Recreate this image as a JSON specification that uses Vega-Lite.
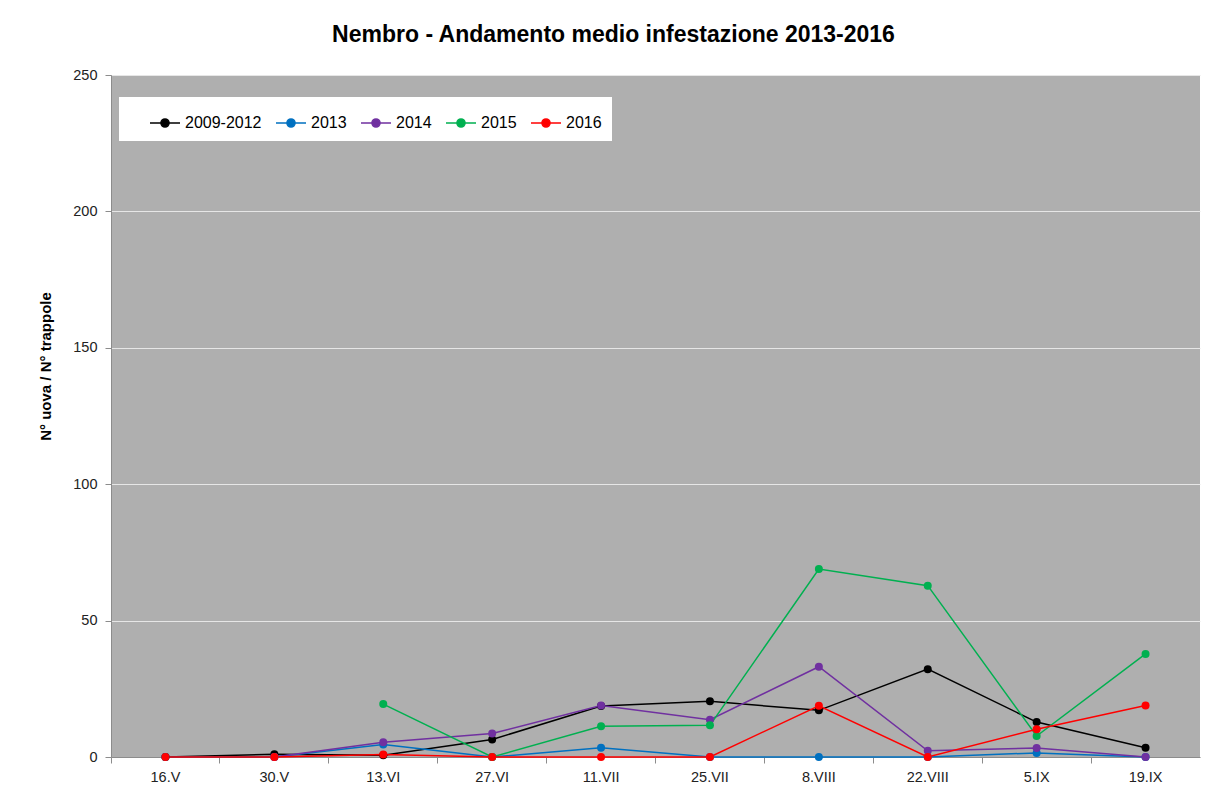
{
  "$schema": "https://vega.github.io/schema/vega-lite/v6.json",
  "width": 1089,
  "height": 682,
  "autosize": {"type": "none"},
  "padding": {"left": 111, "top": 75, "right": 13, "bottom": 39},
  "background": "white",
  "title": {
    "text": "Nembro - Andamento medio infestazione 2013-2016",
    "font": "Liberation Sans",
    "fontSize": 23,
    "fontWeight": "bold",
    "color": "black",
    "anchor": "middle",
    "dx": -42,
    "offset": 20
  },
  "config": {
    "view": {"fill": "#afafaf", "stroke": null},
    "font": "Liberation Sans"
  },
  "data": {
    "values": [
      {"d": "16.V", "s": "2009-2012", "v": 0},
      {"d": "30.V", "s": "2009-2012", "v": 1.0},
      {"d": "13.VI", "s": "2009-2012", "v": 0.6},
      {"d": "27.VI", "s": "2009-2012", "v": 6.4},
      {"d": "11.VII", "s": "2009-2012", "v": 18.7},
      {"d": "25.VII", "s": "2009-2012", "v": 20.4},
      {"d": "8.VIII", "s": "2009-2012", "v": 17.1},
      {"d": "22.VIII", "s": "2009-2012", "v": 32.2},
      {"d": "5.IX", "s": "2009-2012", "v": 12.8},
      {"d": "19.IX", "s": "2009-2012", "v": 3.4},
      {"d": "16.V", "s": "2013", "v": 0},
      {"d": "30.V", "s": "2013", "v": 0},
      {"d": "13.VI", "s": "2013", "v": 4.6},
      {"d": "27.VI", "s": "2013", "v": 0},
      {"d": "11.VII", "s": "2013", "v": 3.4},
      {"d": "25.VII", "s": "2013", "v": 0},
      {"d": "8.VIII", "s": "2013", "v": 0},
      {"d": "22.VIII", "s": "2013", "v": 0},
      {"d": "5.IX", "s": "2013", "v": 1.5},
      {"d": "19.IX", "s": "2013", "v": 0},
      {"d": "30.V", "s": "2014", "v": 0},
      {"d": "13.VI", "s": "2014", "v": 5.4},
      {"d": "27.VI", "s": "2014", "v": 8.6},
      {"d": "11.VII", "s": "2014", "v": 18.9},
      {"d": "25.VII", "s": "2014", "v": 13.7},
      {"d": "8.VIII", "s": "2014", "v": 33.1},
      {"d": "22.VIII", "s": "2014", "v": 2.3},
      {"d": "5.IX", "s": "2014", "v": 3.3},
      {"d": "19.IX", "s": "2014", "v": 0},
      {"d": "13.VI", "s": "2015", "v": 19.4},
      {"d": "27.VI", "s": "2015", "v": 0},
      {"d": "11.VII", "s": "2015", "v": 11.3},
      {"d": "25.VII", "s": "2015", "v": 11.6},
      {"d": "8.VIII", "s": "2015", "v": 68.9},
      {"d": "22.VIII", "s": "2015", "v": 62.8},
      {"d": "5.IX", "s": "2015", "v": 7.7},
      {"d": "19.IX", "s": "2015", "v": 37.8},
      {"d": "16.V", "s": "2016", "v": 0},
      {"d": "30.V", "s": "2016", "v": 0},
      {"d": "13.VI", "s": "2016", "v": 0.9},
      {"d": "27.VI", "s": "2016", "v": 0},
      {"d": "11.VII", "s": "2016", "v": 0},
      {"d": "25.VII", "s": "2016", "v": 0},
      {"d": "8.VIII", "s": "2016", "v": 18.8},
      {"d": "22.VIII", "s": "2016", "v": 0},
      {"d": "5.IX", "s": "2016", "v": 10.2},
      {"d": "19.IX", "s": "2016", "v": 18.9}
    ]
  },
  "mark": {"type": "line", "strokeWidth": 1.5, "point": {"filled": true, "size": 64, "opacity": 1}},
  "encoding": {
    "x": {
      "field": "d",
      "type": "ordinal",
      "sort": ["16.V", "30.V", "13.VI", "27.VI", "11.VII", "25.VII", "8.VIII", "22.VIII", "5.IX", "19.IX"],
      "scale": {"type": "band", "paddingInner": 0, "paddingOuter": 0},
      "axis": {
        "title": null,
        "labelAngle": 0,
        "labelFont": "Liberation Sans",
        "labelFontSize": 14.5,
        "labelColor": "#222222",
        "labelPadding": 7,
        "domainColor": "#8c8c8c",
        "tickColor": "#8c8c8c",
        "tickSize": 6,
        "bandPosition": 0,
        "grid": false
      }
    },
    "y": {
      "field": "v",
      "type": "quantitative",
      "scale": {"domain": [0, 250], "nice": false, "zero": true},
      "axis": {
        "values": [0, 50, 100, 150, 200, 250],
        "title": "N° uova / N° trappole",
        "titleFont": "Liberation Sans",
        "titleFontSize": 15,
        "titleFontWeight": "bold",
        "titleColor": "black",
        "titleAngle": 270,
        "titleAlign": "center",
        "titleBaseline": "middle",
        "titleX": -66,
        "titleY": 291,
        "labelFont": "Liberation Sans",
        "labelFontSize": 14.5,
        "labelColor": "#222222",
        "labelPadding": 8,
        "domainColor": "#8c8c8c",
        "tickColor": "#8c8c8c",
        "tickSize": 6,
        "grid": true,
        "gridColor": "#e6e6e6",
        "gridWidth": 1
      }
    },
    "color": {
      "field": "s",
      "type": "nominal",
      "scale": {
        "domain": ["2009-2012", "2013", "2014", "2015", "2016"],
        "range": ["#000000", "#0070C0", "#7030A0", "#00B050", "#FF0000"]
      },
      "legend": {
        "orient": "none",
        "legendX": 8,
        "legendY": 22,
        "direction": "horizontal",
        "title": " ",
        "titleOrient": "left",
        "titleFontSize": 12,
        "titlePadding": 20,
        "fillColor": "white",
        "padding": 10,
        "symbolType": "M-1,0H1M-0.27,0A0.27,0.27,0,1,1,0.27,0A0.27,0.27,0,1,1,-0.27,0Z",
        "symbolSize": 900,
        "symbolStrokeWidth": 1.5,
        "labelFont": "Liberation Sans",
        "labelFontSize": 16,
        "labelColor": "black",
        "labelOffset": 4,
        "columnPadding": 11,
        "encode": {
          "symbols": {
            "update": {
              "fill": {"scale": "color", "field": "value"},
              "stroke": {"scale": "color", "field": "value"},
              "opacity": {"value": 1}
            }
          }
        }
      }
    }
  }
}
